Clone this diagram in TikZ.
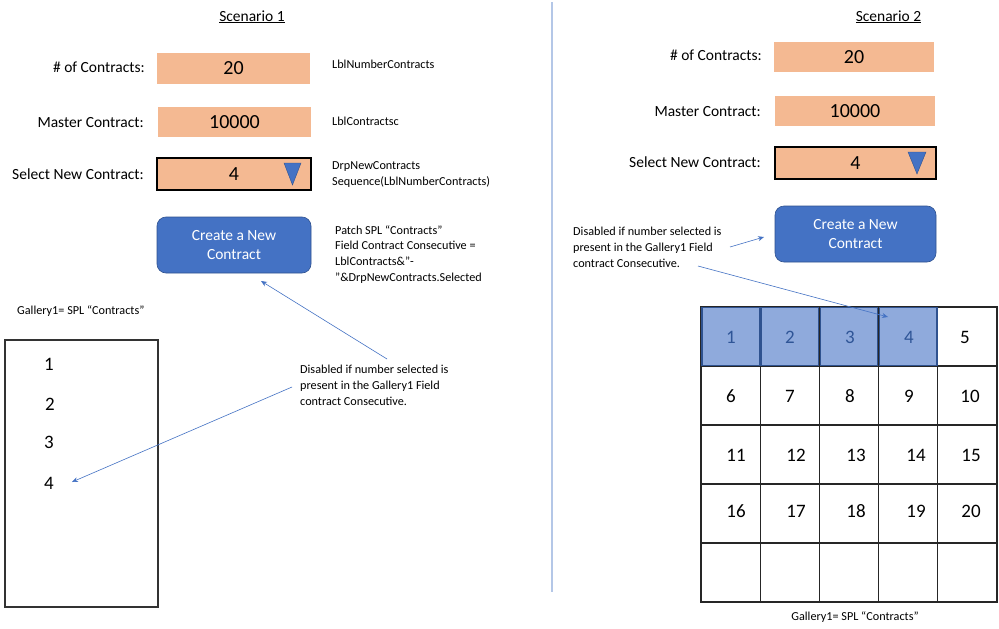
\documentclass[tikz,border=0pt]{standalone}
\usepackage{fontspec}
\setmainfont{Carlito}
\usetikzlibrary{arrows.meta}
\definecolor{orng}{HTML}{F4B992}
\definecolor{btn}{HTML}{4472C4}
\definecolor{btnd}{HTML}{2F528F}
\definecolor{sepc}{HTML}{B4C7E7}
\definecolor{cellb}{HTML}{8FAADC}
\definecolor{celltxt}{HTML}{2F5597}
\begin{document}
\begin{tikzpicture}[x=1pt,y=-1pt,
 ttl/.style={font=\fontsize{15.5}{18}\selectfont, anchor=base, inner sep=0},
 lab/.style={font=\fontsize{15.5}{18}\selectfont, anchor=base east, inner sep=0},
 note/.style={font=\fontsize{12.2}{15.6}\selectfont, anchor=base west, inner sep=0, align=left},
 field/.style={fill=orng, inner sep=0, font=\fontsize{20}{24}\selectfont},
 dropf/.style={field, draw=black, line width=1.1pt},
 btnbox/.style={fill=btn, draw=btnd, line width=0.6pt, rounded corners=9pt, text=white, align=center, font=\fontsize{15.5}{19.5}\selectfont, inner sep=0},
 arr/.style={draw=btn, line width=0.6pt, -{Stealth[length=6pt,width=5pt]}},
 tri/.style={fill=btn, draw=btnd, line width=0.4pt},
 galbox/.style={draw=black!80, line width=1.1pt, inner sep=0},
 gnum/.style={font=\fontsize{19}{22}\selectfont, anchor=base, inner sep=0},
 cell/.style={draw=black!85, line width=1.1pt, minimum width=59.2pt, minimum height=59pt, inner sep=0},
 selcell/.style={fill=cellb, draw=btnd, line width=1.3pt, minimum width=57.5pt, minimum height=57.5pt, inner sep=0}]
\useasboundingbox (0,0) rectangle (999,629);
\fill[white] (0,0) rectangle (999,629);

% separator
\draw[sepc, line width=2pt] (552,2) -- (552,592);

% ---------- Scenario 1 ----------
\node[ttl] (s1title) at (252,21) {\underline{Scenario 1}};
\node[lab] (s1l1) at (145,72) {\# of Contracts:};
\node[lab] (s1l2) at (144,127) {Master Contract:};
\node[lab] (s1l3) at (144,179) {Select New Contract:};
\node[field, minimum width=153pt, minimum height=31pt] (s1f1) at (233.5,68.5) {20};
\node[field, minimum width=153pt, minimum height=30pt] (s1f2) at (234.5,122) {10000};
\node[dropf, minimum width=154pt, minimum height=32pt] (s1f3) at (234,174) {4};
\fill[tri] (284,163) -- (301,163) -- (292.5,185) -- cycle;
\node[btnbox, minimum width=154pt, minimum height=56pt] (s1btn) at (234,245) {Create a New\\Contract};
\node[note] (s1n1) at (332,68) {LblNumberContracts};
\node[note] (s1n2) at (332,125) {LblContractsc};
\node[note] (s1n3) at (332,185.5) {DrpNewContracts\\Sequence(LblNumberContracts)};
\node[note] (s1n4) at (335,281) {Patch SPL “Contracts”\\Field Contract Consecutive =\\LblContracts\&”-\\”\&DrpNewContracts.Selected};
\node[note] (s1gcap) at (17,314) {Gallery1= SPL “Contracts”};
\node[galbox, minimum width=153pt, minimum height=267pt] (s1gal) at (81.5,473.5) {};
\node[gnum] (s1g1) at (49,370) {1};
\node[gnum] (s1g2) at (50,410) {2};
\node[gnum] (s1g3) at (49,448) {3};
\node[gnum] (s1g4) at (49,489) {4};
\node[note] (s1dis) at (300,405) {Disabled if number selected is\\present in the Gallery1 Field\\contract Consecutive.};
\coordinate (a1s) at (387,359);
\coordinate (a1e) at (261,281);
\coordinate (a2s) at (292,387);
\coordinate (a2e) at (72,482);
\draw[arr] (a1s) -- (a1e);
\draw[arr] (a2s) -- (a2e);

% ---------- Scenario 2 ----------
\node[ttl] (s2title) at (888.5,21) {\underline{Scenario 2}};
\node[lab] (s2l1) at (762,60) {\# of Contracts:};
\node[lab] (s2l2) at (761,116) {Master Contract:};
\node[lab] (s2l3) at (761,167) {Select New Contract:};
\node[field, minimum width=160pt, minimum height=30pt] (s2f1) at (854,57) {20};
\node[field, minimum width=160pt, minimum height=30pt] (s2f2) at (855,111) {10000};
\node[dropf, minimum width=161pt, minimum height=32pt] (s2f3) at (855.5,163) {4};
\fill[tri] (908,152) -- (926,152) -- (917,174) -- cycle;
\node[btnbox, minimum width=161pt, minimum height=56pt] (s2btn) at (855.5,234) {Create a New\\Contract};
\node[note] (s2dis) at (573,267) {Disabled if number selected is\\present in the Gallery1 Field\\contract Consecutive.};

% grid
\foreach \r in {0,...,4}{
  \foreach \c in {0,...,4}{
    \node[cell] (g\r\c) at ({730.6+\c*59.2},{336.5+\r*59}) {};
  }
}
\foreach \c in {0,...,3}{
  \node[selcell] (h\c) at ({730.6+\c*59.2},{336.5}) {};
}
\foreach \n/\x/\y in {1/731/343,2/790/343,3/850/343,4/909/343}{
  \node[gnum, text=celltxt] (t\n) at (\x,\y) {\n};
}
\foreach \n/\x/\y in {5/965/343,6/731/402,7/790/402,8/850/402,9/909/402,10/970/402,
  11/736/461,12/796/461,13/856/461,14/916/461,15/971/461,
  16/736/517,17/796/517,18/856/517,19/916/517,20/971/517}{
  \node[gnum] (t\n) at (\x,\y) {\n};
}
\node[note, anchor=base] (s2gcap) at (855,620) {Gallery1= SPL “Contracts”};

\coordinate (a3s) at (730,247);
\coordinate (a3e) at (764,237);
\coordinate (a4s) at (698,266);
\coordinate (a4e) at (888,317);
\draw[arr] (a3s) -- (a3e);
\draw[arr] (a4s) -- (a4e);
\end{tikzpicture}
\end{document}
